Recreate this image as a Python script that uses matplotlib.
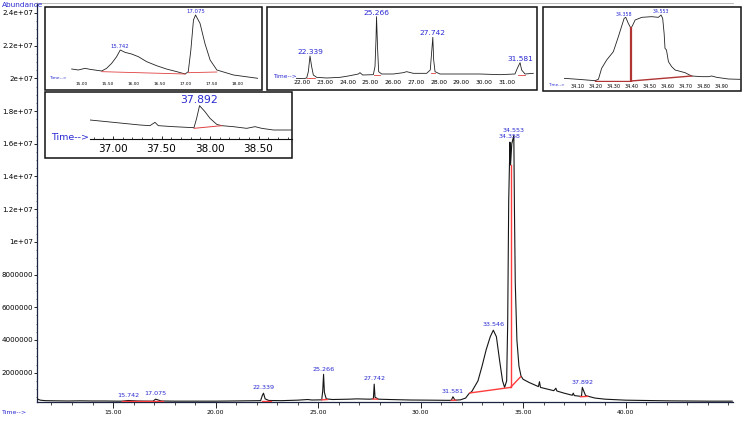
import matplotlib
matplotlib.use('Agg')
import matplotlib.pyplot as plt
from matplotlib.patches import Rectangle
from matplotlib.ticker import FixedLocator, MultipleLocator, FuncFormatter

plt.rcParams['font.family'] = ['DejaVu Sans']

W, H = 744, 422
BLUE = '#2a2ad2'
RED = '#ff3c3c'
DARKRED = '#b03434'

# ---------------- main chromatogram ----------------
main_time = [11.30, 11.45, 11.70, 12.20, 12.80, 13.40, 14.00, 14.60, 15.20, 15.45, 15.74, 16.20,
             16.70, 16.95, 17.08, 17.35, 18.00, 19.00, 20.00, 20.80, 21.50, 22.20, 22.28, 22.34,
             22.42, 22.60, 23.20, 24.00, 24.50, 24.70, 25.18, 25.23, 25.27, 25.31, 25.40, 25.70,
             26.50, 26.90, 27.50, 27.70, 27.74, 27.78, 27.95, 28.50, 29.50, 30.50, 31.30, 31.50,
             31.58, 31.68, 31.95, 32.20, 32.35, 32.50, 32.80, 33.00, 33.20, 33.40, 33.55, 33.70,
             33.85, 34.00, 34.10, 34.20, 34.25, 34.30, 34.36, 34.39, 34.45, 34.55, 34.58, 34.62,
             34.70, 34.80, 34.90, 35.00, 35.30, 35.75, 35.80, 35.85, 36.50, 36.60, 36.65, 37.00,
             37.40, 37.45, 37.50, 37.85, 37.89, 38.05, 38.50, 39.00, 40.00, 42.00, 44.00, 45.20]
main_abund = [4.0e5, 3.2e5, 2.9e5, 2.8e5, 2.7e5, 2.8e5, 2.7e5, 2.7e5, 2.6e5, 2.6e5, 3.0e5, 2.7e5,
              2.6e5, 2.6e5, 3.8e5, 2.7e5, 2.6e5, 2.6e5, 2.6e5, 2.7e5, 2.8e5, 2.9e5, 6.0e5, 7.5e5,
              4.0e5, 3.0e5, 2.9e5, 3.2e5, 3.6e5, 3.3e5, 3.4e5, 9.0e5, 1.9e6, 8.0e5, 4.0e5, 3.6e5,
              3.8e5, 4.0e5, 3.8e5, 4.0e5, 1.3e6, 5.0e5, 3.8e5, 3.6e5, 3.3e5, 3.2e5, 3.1e5, 3.1e5,
              5.3e5, 3.2e5, 3.4e5, 4.5e5, 7.0e5, 8.5e5, 1.5e6, 2.4e6, 3.4e6, 4.2e6, 4.6e6, 4.2e6,
              2.8e6, 1.5e6, 1.1e6, 1.5e6, 5.0e6, 1.25e7, 1.61e7, 1.47e7, 1.6e7, 1.65e7, 1.2e7, 7.5e6,
              4.0e6, 2.4e6, 1.8e6, 1.6e6, 1.4e6, 1.15e6, 1.45e6, 1.1e6, 9.0e5, 1.05e6, 8.8e5, 7.5e5,
              6.2e5, 7.5e5, 6.0e5, 5.5e5, 1.1e6, 6.0e5, 4.5e5, 3.8e5, 3.2e5, 2.8e5, 2.6e5, 2.6e5]

main_peak_labels = ['15.742', '17.075', '22.339', '25.266', '27.742', '31.581', '33.546',
                    '34.358', '34.553', '37.892']
main_peak_time = [15.74, 17.08, 22.34, 25.27, 27.74, 31.58, 33.55, 34.36, 34.55, 37.89]
main_peak_abund = [3.0e5, 3.8e5, 7.5e5, 1.9e6, 1.3e6, 5.3e5, 4.6e6, 1.61e7, 1.65e7, 1.1e6]

# integration baselines (time pairs, abundance pairs)
main_base_t = [(15.42, 16.64), (16.64, 17.44), (22.28, 22.70), (25.18, 25.45), (27.68, 27.90),
               (31.50, 31.72), (37.80, 38.15), (32.40, 34.39), (34.39, 34.88), (34.39, 34.39)]
main_base_v = [(2.6e5, 2.6e5), (2.6e5, 2.6e5), (2.9e5, 2.9e5), (3.4e5, 3.6e5), (3.9e5, 3.8e5),
               (3.1e5, 3.2e5), (5.3e5, 5.5e5), (7.6e5, 1.1e6), (1.1e6, 1.75e6), (1.1e6, 1.47e7)]

main_yticks = [2e6, 4e6, 6e6, 8e6, 1e7, 1.2e7, 1.4e7, 1.6e7, 1.8e7, 2e7, 2.2e7, 2.4e7]
main_xticks = [15, 20, 25, 30, 35, 40]

# ---------------- inset 1 (15-18 min) ----------------
in1_t = [14.808, 14.936, 15.064, 15.16, 15.385, 15.48, 15.577, 15.673, 15.742, 15.833, 15.96,
         16.09, 16.25, 16.44, 16.63, 16.83, 16.99, 17.05, 17.10, 17.15, 17.19, 17.276, 17.37,
         17.47, 17.60, 17.92, 18.39]
in1_v = [43, 40, 45, 42, 37, 45, 60, 80, 100, 93, 88, 80, 65, 53, 43, 35, 28, 35, 100, 190, 205,
         180, 120, 70, 40, 25, 15]
in1_labels = ['15.742', '17.075']
in1_peak_t = [15.742, 17.19]
in1_peak_v = [100, 205]
in1_base_t = [(15.385, 16.99), (17.05, 17.60)]
in1_base_v = [(35, 28), (32, 34)]
in1_ticks = [15.0, 15.5, 16.0, 16.5, 17.0, 17.5, 18.0]

# ---------------- inset 2 (22-32 min) ----------------
in2_t = [21.723, 22.046, 22.192, 22.266, 22.339, 22.412, 22.486, 22.632, 23.072, 23.659, 24.025,
         24.465, 24.538, 24.656, 25.125, 25.198, 25.242, 25.266, 25.315, 25.36, 25.491, 26.005,
         26.445, 26.591, 26.884, 27.47, 27.63, 27.742, 27.78, 27.84, 28.058, 28.937, 29.817,
         30.697, 31.357, 31.46, 31.581, 31.65, 31.80, 32.163]
in2_v = [15, 14, 16, 35, 82, 50, 25, 18, 16, 18, 22, 28, 32, 25, 26, 50, 130, 200, 100, 35, 28,
         28, 32, 35, 30, 30, 40, 138, 70, 35, 28, 28, 28, 26, 28, 45, 62, 40, 28, 30]
in2_labels = ['22.339', '25.266', '27.742', '31.581']
in2_peak_t = [22.339, 25.266, 27.742, 31.581]
in2_peak_v = [82, 200, 138, 62]
in2_base_t = [(22.192, 22.559), (25.154, 25.418), (27.647, 27.838), (31.508, 31.80)]
in2_base_v = [(16, 16), (26, 26), (31, 31), (26, 26)]
in2_ticks = [22, 23, 24, 25, 26, 27, 28, 29, 30, 31]

# ---------------- inset 3 (34.0-35.0 min) ----------------
in3_t = [34.026, 34.104, 34.196, 34.215, 34.233, 34.261, 34.298, 34.326, 34.358, 34.367, 34.381,
         34.396, 34.406, 34.419, 34.456, 34.511, 34.548, 34.563, 34.572, 34.58, 34.585, 34.593,
         34.604, 34.622, 34.641, 34.696, 34.733, 34.789, 34.826, 34.844, 34.872, 34.937, 35.002]
in3_v = [15, 12, 8, 12, 45, 70, 95, 140, 195, 198, 180, 165, 175, 190, 198, 200, 198, 205, 195,
         150, 105, 100, 65, 50, 40, 32, 22, 20, 20, 22, 18, 13, 12]
in3_labels = ['34.358', '34.553']
in3_peak_t = [34.358, 34.563]
in3_peak_v = [195, 205]
in3_base_t = [(34.196, 34.396), (34.396, 34.733), (34.396, 34.396)]
in3_base_v = [(7, 7), (7, 22), (7, 165)]
in3_ticks = [34.1, 34.2, 34.3, 34.4, 34.5, 34.6, 34.7, 34.8, 34.9]

# ---------------- inset 4 (37-38.5 min) ----------------
in4_t = [36.763, 36.935, 37.106, 37.278, 37.381, 37.433, 37.467, 37.622, 37.76, 37.835, 37.862,
         37.892, 37.948, 38.0, 38.069, 38.12, 38.24, 38.378, 38.464, 38.533, 38.653, 38.842]
in4_v = [95, 90, 85, 80, 78, 88, 78, 75, 73, 72, 100, 138, 120, 100, 82, 78, 75, 70, 75, 70, 65, 65]
in4_labels = ['37.892']
in4_peak_t = [37.892]
in4_peak_v = [138]
in4_base_t = [(37.835, 38.12)]
in4_base_v = [(70, 78)]
in4_ticks = [37.0, 37.5, 38.0, 38.5]


def rect(l, t, r, b):
    return [l / W, 1 - b / H, (r - l) / W, (b - t) / H]


fig = plt.figure(figsize=(W / 100, H / 100), dpi=100)

# ---------- main axes ----------
ax = fig.add_axes(rect(37, 3, 733, 402))
ax.plot(main_time, main_abund, color='#151515', lw=0.8, zorder=3)
for (t0, t1), (v0, v1) in zip(main_base_t, main_base_v):
    ax.plot([t0, t1], [v0, v1], color=RED, lw=1.0, zorder=4)
for lab, t, v in zip(main_peak_labels, main_peak_time, main_peak_abund):
    ax.annotate(lab, (t, v), xytext=(0, 2), textcoords='offset points', ha='center',
                va='bottom', fontsize=4.6, color=BLUE)
ax.set_xlim(11.293, 45.24)
ax.set_ylim(2.08e5, 2.461e7)
ax.xaxis.set_major_locator(FixedLocator(main_xticks))
ax.xaxis.set_minor_locator(MultipleLocator(1))
ax.xaxis.set_major_formatter(FuncFormatter(lambda v, p: f'{v:.2f}'))
ax.yaxis.set_major_locator(FixedLocator(main_yticks))
ax.yaxis.set_minor_locator(MultipleLocator(5e5))


def yfmt(v, p):
    if v < 1e7:
        return f'{int(round(v))}'
    return f'{v / 1e7:g}e+07'


ax.yaxis.set_major_formatter(FuncFormatter(yfmt))
ax.tick_params(axis='x', which='major', length=4, width=0.6, labelsize=4.4, pad=2, direction='out')
ax.tick_params(axis='x', which='minor', length=2, width=0.5, direction='out')
ax.tick_params(axis='y', which='major', length=2.0, width=0.6, labelsize=5.1, pad=0.8, direction='out')
ax.tick_params(axis='y', which='minor', length=1.0, width=0.4, direction='out')
ax.spines['right'].set_visible(False)
ax.spines['top'].set_color('#b0b0b0')
ax.spines['top'].set_linewidth(0.6)
ax.spines['left'].set_color('#1c2440')
ax.spines['left'].set_linewidth(0.9)
ax.spines['bottom'].set_color('#1c2440')
ax.spines['bottom'].set_linewidth(0.9)

fig.text(2 / W, 1 - 5 / H, 'Abundance', fontsize=5.3, color=BLUE, ha='left', va='center')
fig.text(2 / W, 1 - 413 / H, 'Time-->', fontsize=4.5, color=BLUE, ha='left', va='center')


def make_inset(box, area, xlim, ylim, t, v, labels, pt, pv, bt, bv, ticks, tick_fs, lab_fs,
               time_xy, time_fs, pad, base_color, base_lw, spine=False, minor=None):
    fig.add_artist(Rectangle((box[0] / W, 1 - box[3] / H), (box[2] - box[0]) / W,
                             (box[3] - box[1]) / H, transform=fig.transFigure,
                             facecolor='white', edgecolor='#111111', lw=1.1, zorder=5))
    a = fig.add_axes(rect(*area))
    a.set_zorder(6)
    a.patch.set_visible(False)
    a.plot(t, v, color='#222222', lw=0.6)
    for (t0, t1), (v0, v1) in zip(bt, bv):
        lw = base_lw * (1.6 if t0 == t1 else 1.0)
        a.plot([t0, t1], [v0, v1], color=base_color, lw=lw)
    for lab, x, y in zip(labels, pt, pv):
        a.annotate(lab, (x, y), xytext=(0, 0.8), textcoords='offset points', ha='center',
                   va='bottom', fontsize=lab_fs, color=BLUE)
    a.set_xlim(*xlim)
    a.set_ylim(*ylim)
    a.set_yticks([])
    a.xaxis.set_major_locator(FixedLocator(ticks))
    a.xaxis.set_major_formatter(FuncFormatter(lambda x, p: f'{x:.2f}'))
    for s in ['left', 'right', 'top']:
        a.spines[s].set_visible(False)
    if spine:
        a.spines['bottom'].set_linewidth(0.8)
        a.spines['bottom'].set_color('#111111')
        a.xaxis.set_minor_locator(MultipleLocator(minor))
        a.tick_params(axis='x', which='major', direction='in', length=2.5, width=0.6,
                      labelsize=tick_fs, pad=pad)
        a.tick_params(axis='x', which='minor', direction='in', length=1.5, width=0.5)
    else:
        a.spines['bottom'].set_visible(False)
        a.tick_params(axis='x', which='major', length=0, labelsize=tick_fs, pad=pad)
    fig.text(time_xy[0] / W, 1 - time_xy[1] / H, 'Time-->', fontsize=time_fs, color=BLUE,
             ha='left', va='center', zorder=7)
    return a


make_inset((45, 7, 262, 90), (70, 12, 258, 79), (14.776, 18.391), (13, 214), in1_t, in1_v,
           in1_labels, in1_peak_t, in1_peak_v, in1_base_t, in1_base_v, in1_ticks, 3.1, 3.9,
           (49, 78), 3.2, 2.0, '#e04040', 0.6)
make_inset((267, 7, 537, 90), (296, 12, 534, 79), (21.723, 32.194), (13, 214), in2_t, in2_v,
           in2_labels, in2_peak_t, in2_peak_v, in2_base_t, in2_base_v, in2_ticks, 4.3, 5.4,
           (273, 77), 4.2, 0.4, '#e04040', 0.6)
make_inset((543, 7, 741, 91), (564, 12, 741, 82), (34.024, 35.007), (4, 214), in3_t, in3_v,
           in3_labels, in3_peak_t, in3_peak_v, in3_base_t, in3_base_v, in3_ticks, 3.5, 3.4,
           (548, 85), 3.0, 1.6, DARKRED, 1.0)
make_inset((45, 92, 292, 158), (90, 95, 292, 139), (36.763, 38.845), (38, 170), in4_t, in4_v,
           in4_labels, in4_peak_t, in4_peak_v, in4_base_t, in4_base_v, in4_ticks, 7.5, 7.8,
           (51, 137), 6.8, 3.5, '#e04040', 0.7, spine=True, minor=0.1)

fig.savefig('out.png', dpi=100)
